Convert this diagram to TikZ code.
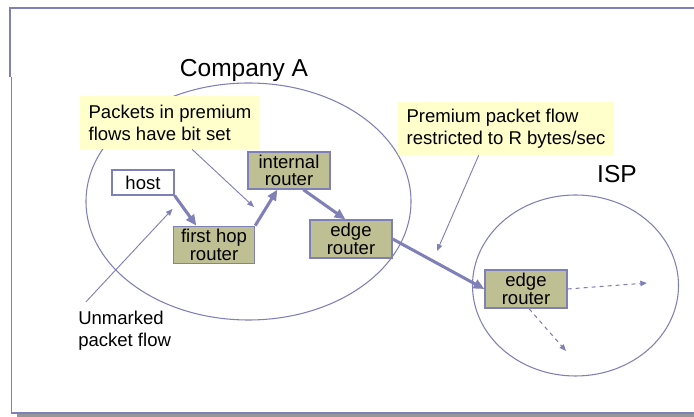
\documentclass[tikz,border=0pt]{standalone}
\usepackage{fontspec}
\setmainfont{Liberation Sans}
\usetikzlibrary{arrows.meta,calc}
\definecolor{lav}{RGB}{128,128,184}
\definecolor{olive}{RGB}{191,191,148}
\definecolor{callout}{RGB}{255,255,204}
\definecolor{shadowgray}{RGB}{150,150,150}
\begin{document}
\begin{tikzpicture}[x=0.75pt,y=-0.75pt,
  boxfont/.style={font=\fontsize{13.9}{13}\selectfont},
  router/.style={draw=lav,line width=1pt,fill=olive,inner sep=0pt,align=center,boxfont,minimum width=61.5pt,minimum height=28.5pt},
  hostbox/.style={draw=lav,line width=1pt,fill=white,inner sep=0pt,boxfont,minimum width=46.5pt,minimum height=18.75pt},
  note/.style={fill=callout,inner sep=0pt,align=left,font=\fontsize{13.9}{16.5}\selectfont},
  title/.style={font=\fontsize{18.4}{20}\selectfont,inner sep=0pt},
  region/.style={draw=lav,line width=0.8pt},
  thick arrow/.style={draw=lav,line width=2.3pt,-{Triangle[length=8pt,width=7pt]}},
  thin arrow/.style={draw=lav,line width=0.7pt,-{Triangle[length=5pt,width=4pt]}},
  dash arrow/.style={draw=lav,line width=0.8pt,dashed,-{Triangle[length=5pt,width=4pt]}}]
\useasboundingbox (0,0) rectangle (694,417);
% slide frame
\fill[shadowgray] (17,414) rectangle (694,417);
\draw[lav,line width=1.1pt] (694,8) -- (10,8) -- (10,77);
\draw[lav,line width=1.1pt] (11.7,77) -- (11.7,413) -- (694,413);
% regions
\draw[region] (248.5,201.5) ellipse [x radius=162.5, y radius=118.5];
\draw[region] (575.5,285.5) ellipse [x radius=103, y radius=90.5];
\node[title,anchor=base] (compA) at (244,76.7) {Company A};
\node[title,anchor=base] (isp) at (617,183) {ISP};
% callouts
\node[note,minimum width=135pt,minimum height=39.75pt] (note1) at (170,122.5) {Packets in premium\\flows have bit set};
\node[note,minimum width=162pt,minimum height=39.75pt] (note2) at (506,128.5) {Premium packet flow\\restricted to R bytes/sec};
\node[inner sep=0pt,align=left,anchor=north west,font=\fontsize{13.9}{16.5}\selectfont] (unmarked) at (78,310.5) {Unmarked\\packet flow};
% boxes
\node[hostbox] (host) at (143,182.5) {host};
\node[router,minimum width=60.75pt,minimum height=28.1pt] (first) at (214,245) {first hop\\router};
\node[router,minimum height=27.75pt] (internal) at (289,170.5) {internal\\router};
\node[router] (edgeA) at (351,239) {edge\\router};
\node[router] (edgeB) at (526,289) {edge\\router};
% free ends
\coordinate (t1) at (254,207);
\coordinate (t2) at (172.5,209);
\coordinate (t3) at (437,251);
\coordinate (d1) at (647,283);
\coordinate (d2) at (566,351);
% thick flow
\draw[thick arrow] (host.south east) -- ([xshift=17.6pt]first.north west);
\draw[thick arrow] (first.north east) -- ([xshift=22.5pt]internal.south west);
\draw[thick arrow] ([xshift=42pt]internal.south west) -- ([xshift=27pt]edgeA.north west);
\draw[thick arrow] (edgeA.east) -- (edgeB.west);
% thin pointers
\draw[thin arrow] ([xshift=16.5pt]note1.south) -- (t1);
\draw[thin arrow] ([xshift=6pt,yshift=6.5pt]unmarked.north west) -- (t2);
\draw[thin arrow] ([xshift=60.75pt]note2.south west) -- (t3);
% dashed onward flows
\draw[dash arrow] (edgeB.east) -- (d1);
\draw[dash arrow] ([xshift=2.25pt]edgeB.south) -- (d2);
\end{tikzpicture}
\end{document}
